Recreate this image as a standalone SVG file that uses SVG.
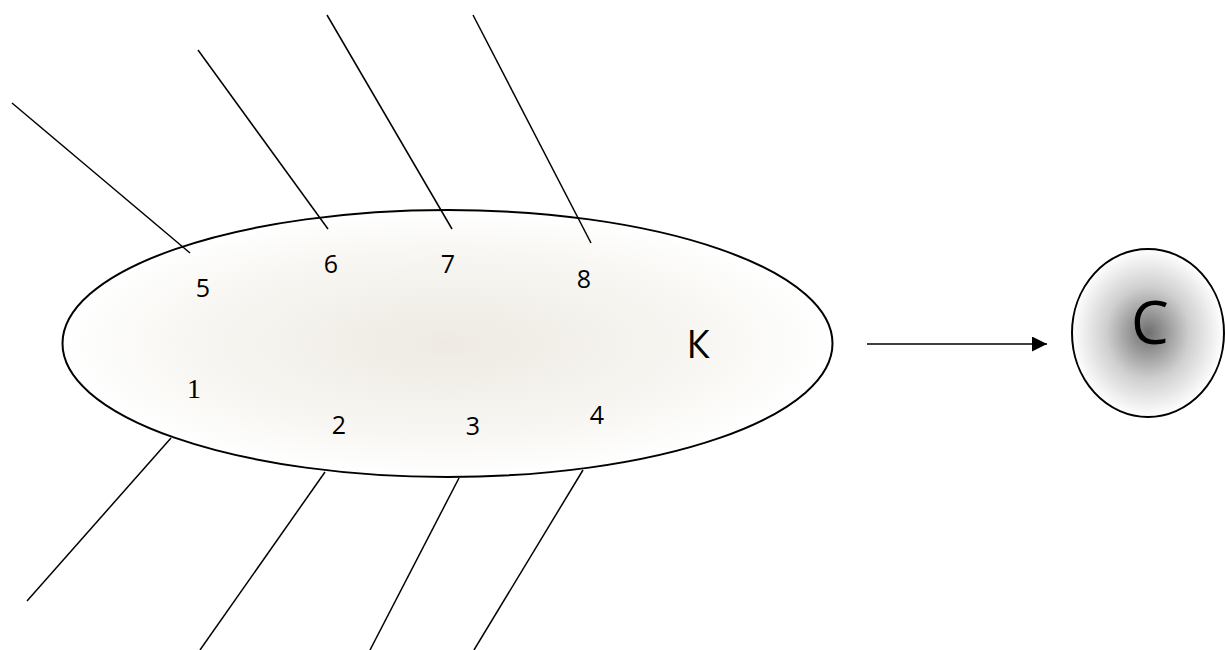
<svg xmlns="http://www.w3.org/2000/svg" width="1225" height="650" viewBox="0 0 1225 650">
<defs>
<radialGradient id="gBody" cx="0.5" cy="0.5" r="0.5">
<stop offset="0" stop-color="#eeeae3"/>
<stop offset="0.7" stop-color="#f8f7f3"/>
<stop offset="1" stop-color="#ffffff"/>
</radialGradient>
<radialGradient id="gHead" cx="0.5" cy="0.5" r="0.5">
<stop offset="0" stop-color="#6e6e6e"/>
<stop offset="0.55" stop-color="#cfcfcf"/>
<stop offset="1" stop-color="#ffffff"/>
</radialGradient>
<marker id="arr" markerWidth="16" markerHeight="16" refX="15" refY="7.5" orient="auto" markerUnits="userSpaceOnUse">
<path d="M0,0 L15,7.5 L0,15 Z" fill="#000"/>
</marker>
</defs>
<style>
.bone{stroke:#000;stroke-width:1.5;fill:none}
.shape{stroke:#000;stroke-width:2}
.num{font-family:"Open Sans","Liberation Sans",sans-serif;font-size:25px;fill:#000;text-anchor:middle}
.serif{font-family:"Liberation Serif",serif;font-size:28px;fill:#000;text-anchor:middle}
.big{font-family:"Open Sans","Liberation Sans",sans-serif;fill:#000;text-anchor:middle}
</style>
<g id="body">
<ellipse class="shape" cx="447.5" cy="343.5" rx="385" ry="133.5" fill="url(#gBody)"/>
<text class="big" x="698" y="358" font-size="38">К</text>
</g>
<g id="head">
<ellipse class="shape" cx="1148" cy="333" rx="76" ry="84" fill="url(#gHead)"/>
<text class="big" x="1150" y="344" font-size="60">С</text>
</g>
<g id="connectors">
<line class="bone" x1="12" y1="103" x2="190" y2="253"/>
<line class="bone" x1="198" y1="50" x2="328" y2="229"/>
<line class="bone" x1="327" y1="15" x2="452" y2="229"/>
<line class="bone" x1="473" y1="15" x2="591" y2="243"/>
<line class="bone" x1="171" y1="438" x2="27" y2="601"/>
<line class="bone" x1="325" y1="472" x2="200" y2="650"/>
<line class="bone" x1="459" y1="478" x2="370" y2="650"/>
<line class="bone" x1="583" y1="470" x2="474" y2="650"/>
<line class="bone" x1="867" y1="344" x2="1047" y2="344" marker-end="url(#arr)"/>
</g>
<g id="labels">
<text class="num" x="203" y="297">5</text>
<text class="num" x="331" y="273">6</text>
<text class="num" x="448" y="273">7</text>
<text class="num" x="584" y="288">8</text>
<text class="serif" x="194" y="398">1</text>
<text class="num" x="339" y="434">2</text>
<text class="num" x="473" y="435">3</text>
<text class="num" x="597" y="424">4</text>
</g>
</svg>
